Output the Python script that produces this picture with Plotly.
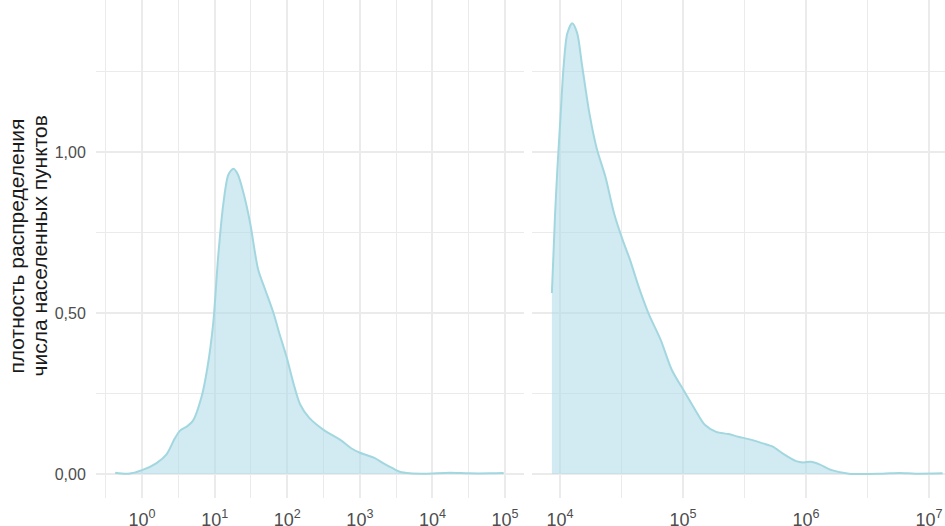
import plotly.graph_objects as go

# left panel: settlements, x as log10(population)
small_log10 = [-0.37, -0.19, 0.0, 0.2, 0.34, 0.45, 0.52, 0.62, 0.70, 0.82, 0.90, 0.98,
               1.05, 1.12, 1.19, 1.26, 1.32, 1.40, 1.49, 1.60, 1.70, 1.81, 1.90, 1.99,
               2.10, 2.18, 2.30, 2.50, 2.73, 2.88, 3.0, 3.09, 3.20, 3.32, 3.45, 3.55,
               3.69, 3.9, 4.24, 4.5, 4.8, 4.98]
small_density = [0.004, 0.001, 0.012, 0.034, 0.062, 0.11, 0.134, 0.148, 0.165, 0.24, 0.33, 0.468,
                 0.68, 0.84, 0.93, 0.948, 0.93, 0.87, 0.778, 0.634, 0.57, 0.50, 0.43, 0.364,
                 0.27, 0.215, 0.175, 0.137, 0.106, 0.08, 0.066, 0.059, 0.05, 0.034, 0.018, 0.007,
                 0.002, 0.001, 0.004, 0.002, 0.002, 0.003]

# right panel: cities
big_log10 = [3.935, 3.96, 3.98, 4.005, 4.03, 4.06, 4.10, 4.14, 4.18, 4.24, 4.30, 4.37,
             4.44, 4.51, 4.57, 4.64, 4.72, 4.82, 4.91, 5.02, 5.10, 5.18, 5.27, 5.37,
             5.45, 5.56, 5.65, 5.73, 5.81, 5.92, 5.98, 6.04, 6.11, 6.21, 6.35, 6.62,
             6.76, 6.89, 7.11]
big_density = [0.562, 0.80, 0.95, 1.11, 1.265, 1.368, 1.40, 1.37, 1.27, 1.12, 1.01, 0.923,
               0.81, 0.727, 0.665, 0.582, 0.499, 0.416, 0.323, 0.251, 0.199, 0.152, 0.131, 0.124,
               0.116, 0.106, 0.095, 0.085, 0.064, 0.040, 0.036, 0.038, 0.030, 0.012, 0.001, 0.001,
               0.003, 0.001, 0.002]

small_ticks = [0, 1, 2, 3, 4, 5]
big_ticks = [4, 5, 6, 7]
y_ticks = [0, 0.5, 1.0]
y_labels = ["0,00", "0,50", "1,00"]
y_title = ["плотность распределения", "числа населенных пунктов"]

FILL = "rgba(173,216,230,0.55)"
LINE = "#a3d7e0"
GRID = "#ebebeb"

fig = go.Figure()
fig.add_trace(go.Scatter(
    x=[10 ** v for v in small_log10], y=small_density,
    mode="lines", line={"color": LINE, "width": 2, "shape": "spline", "smoothing": 0.8},
    fill="tozeroy", fillcolor=FILL, xaxis="x", yaxis="y", showlegend=False
))
fig.add_trace(go.Scatter(
    x=[10 ** v for v in big_log10], y=big_density,
    mode="lines", line={"color": LINE, "width": 2, "shape": "spline", "smoothing": 0.8},
    fill="tozeroy", fillcolor=FILL, xaxis="x2", yaxis="y2", showlegend=False
))


def log_axis(ticks, rng, domain):
    return dict(
        type="log", range=rng, domain=domain, automargin=False,
        tickmode="array",
        tickvals=[10 ** t for t in ticks],
        ticktext=[f"10<sup>{t}</sup>" for t in ticks],
        showgrid=True, gridcolor=GRID, gridwidth=2,
        zeroline=False, showline=False,
        ticks="outside", ticklen=5, tickcolor="rgba(0,0,0,0)",
        tickfont={"size": 18, "color": "#4d4d4d"},
        minor=dict(tickmode="array",
                   tickvals=[10 ** (t + 0.5) for t in range(ticks[0] - 1, ticks[-1] + 1)],
                   showgrid=True, gridcolor=GRID, gridwidth=1, ticks=""),
    )


fig.update_layout(
    width=945, height=526,
    margin=dict(l=96, r=0, t=0, b=28),
    plot_bgcolor="white", paper_bgcolor="white",
    font={"family": "Liberation Sans, Arial, sans-serif"},
    xaxis=log_axis(small_ticks, [-0.634, 5.26], [0, 0.5041]),
    xaxis2=log_axis(big_ticks, [3.773, 7.13], [0.5135, 1]),
    yaxis=dict(
        range=[-0.0745, 1.472], tickmode="array", tickvals=y_ticks, ticktext=y_labels,
        automargin=False,
        showgrid=True, gridcolor=GRID, gridwidth=2, zeroline=False, showline=False,
        ticks="outside", ticklen=6, tickcolor="rgba(0,0,0,0)",
        tickfont={"size": 16, "color": "#4d4d4d"},
        minor=dict(tickmode="array", tickvals=[0.25, 0.75, 1.25],
                   showgrid=True, gridcolor=GRID, gridwidth=1, ticks=""),
    ),
    yaxis2=dict(
        anchor="x2", matches="y", range=[-0.0745, 1.472], automargin=False,
        tickmode="array", tickvals=y_ticks, showticklabels=False,
        showgrid=True, gridcolor=GRID, gridwidth=2, zeroline=False, showline=False,
        minor=dict(tickmode="array", tickvals=[0.25, 0.75, 1.25],
                   showgrid=True, gridcolor=GRID, gridwidth=1, ticks=""),
    ),
)

# two-line y title as annotations (tighter line spacing than axis title)
for i, line in enumerate(y_title):
    fig.add_annotation(
        text=line, textangle=-90, showarrow=False,
        xref="paper", yref="paper", x=(17 + 23 * i - 96) / 849, y=0.505,
        xanchor="center", yanchor="middle",
        font={"size": 21, "color": "#1a1a1a"},
    )

# page has a default 8px body margin; drop it so the figure sits at the corner
fig.write_html("out.html", config={"displayModeBar": False},
               post_script="document.body.style.margin = '0';")
